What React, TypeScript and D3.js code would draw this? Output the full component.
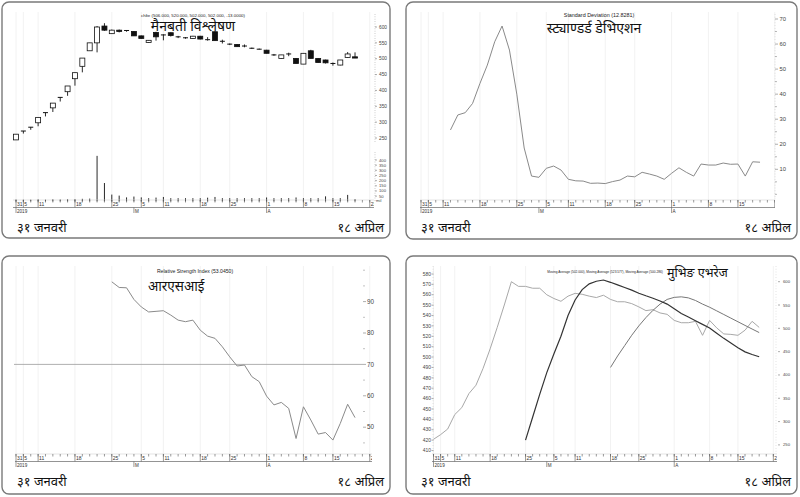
import React from "react";
import * as d3 from "d3";

// ---------- data ----------
const candleOpen = [244, 272, 284, 298, 330, 345, 378, 396, 437, 476, 525, 550, 603, 579, 590, 589, 586, 572, 551, 583, 575, 582, 569, 566, 564, 571, 560, 585, 555, 546, 545, 540, 533, 530, 527, 512, 501, 515, 501, 483, 525, 501, 496, 485, 480, 504, 506];
const candleHigh = [262, 272, 284, 315, 330, 360, 378, 414, 456, 502, 550, 603, 612, 592, 592, 590, 587, 573, 559, 585, 577, 583, 572, 568, 572, 572, 568, 587, 560, 548, 546, 545, 535, 532, 528, 515, 512, 519, 502, 517, 528, 502, 497, 488, 496, 521, 520];
const candleLow = [244, 264, 276, 287, 318, 332, 365, 383, 415, 457, 525, 520, 588, 578, 583, 585, 572, 563, 550, 557, 558, 570, 565, 563, 563, 561, 557, 557, 548, 543, 538, 536, 531, 529, 517, 509, 500, 508, 485, 483, 501, 488, 485, 478, 479, 503, 502];
const candleClose = [262, 272, 284, 315, 330, 360, 378, 414, 456, 502, 550, 600, 590, 590, 586, 586, 572, 564, 558, 569, 575, 573, 569, 566, 571, 562, 557, 557, 553, 546, 538, 540, 533, 530, 517, 512, 512, 515, 485, 517, 501, 488, 487, 485, 496, 515, 502];
const volume = [18, 16, 16, 20, 16, 20, 18, 20, 22, 24, 26, 440, 177, 65, 55, 38, 46, 38, 30, 36, 42, 30, 30, 30, 30, 30, 35, 42, 30, 30, 30, 30, 30, 30, 37, 30, 30, 30, 37, 30, 30, 30, 48, 30, 30, 62, 22];

const sdStart = 4;
const sdValues = [25.7, 31.7, 32.6, 36.3, 44.3, 51.6, 60.9, 67.2, 57.6, 40, 18.5, 7.3, 6.8, 10.4, 11.3, 9.7, 6.0, 5.4, 5.3, 4.4, 4.5, 4.3, 5.1, 5.7, 7.3, 7.0, 8.8, 8.1, 7.3, 6.0, 8.4, 10.6, 8.8, 7.3, 12.1, 11.7, 11.7, 12.5, 12.0, 12.1, 7.3, 13.0, 12.83];

const rsiStart = 13;
const rsiValues = [96.3, 94.5, 94.4, 90.7, 88.3, 86.7, 86.9, 87.1, 85.7, 84.1, 83.6, 84.1, 80.9, 79.0, 78.3, 75.6, 72.4, 69.5, 69.8, 66.1, 64.5, 59.9, 57.1, 57.9, 56.0, 46.4, 56.5, 52.3, 47.8, 48.3, 45.9, 51.2, 57.3, 53.05];

const maLongStart = 13;
const maLongValues = [420, 442, 464, 485, 503, 520, 540, 555, 565, 570.5, 573, 574.2, 572, 569.5, 567, 564.5, 561.5, 559, 556.7, 554, 551, 546.5, 542, 538.5, 535, 531.5, 528, 523, 518, 513.5, 509, 505, 502.5, 500.3];
const maMidStart = 25;
const maMidValues = [490, 501, 511, 521, 530, 538, 545, 551, 555.5, 557.5, 558, 557, 554.5, 551, 548, 544.5, 541, 537.5, 534, 530.5, 527, 523.6];

const tickIdx = [0, 1, 3, 8, 13, 17, 20, 25, 29, 34, 39, 43, 48];
const tickLabels = ["31", "5", "11", "18", "25", "5", "11", "18", "25", "1", "8", "15", "22"];
const monthIdx = [0, 16, 34];
const monthLabels = ["2019", "M", "A"];

const priceTicks = [250, 300, 350, 400, 450, 500, 550, 600];
const volTicks = [50, 100, 150, 200, 250, 300, 350, 400];
const sdTicks = [10, 20, 30, 40, 50, 60, 70];
const sdMinor = [0, 5, 15, 25, 35, 45, 55, 65];
const rsiTicks = [50, 60, 70, 80, 90];
const rsiMinor = [45, 55, 65, 75, 85, 95, 100];
const maLeftTicks = [410, 420, 430, 440, 450, 460, 470, 480, 490, 500, 510, 520, 530, 540, 550, 560, 570, 580];
const maRightTicks = [250, 300, 350, 400, 450, 500, 550, 600];

const FONT = "'Liberation Sans', Arial, Helvetica, sans-serif";
const DEVA = "'Noto Sans Devanagari', 'Lohit Devanagari', 'Noto Sans', 'FreeSans', sans-serif";
const footerLeft = "३१ जनवरी";
const footerRight = "१८ अप्रिल";

// ---------- shared pieces ----------
function Frame({ w, h }: { w: number; h: number }) {
  return <rect x={0} y={0} width={w} height={h} rx={7} fill="#fff" stroke="#7a7a7a" strokeWidth={1.4} />;
}

function Grid({ x }: { x: (i: number) => number }) {
  return (
    <g>
      {tickIdx.map((t, k) => (
        <line key={k} x1={x(t)} x2={x(t)} y1={10} y2={198} stroke="#efefef" strokeWidth={0.8} />
      ))}
    </g>
  );
}

function DateAxis({ x, x0, x1, id }: { x: (i: number) => number; x0: number; x1: number; id: string }) {
  const minor = d3.range(0, 49);
  return (
    <g fontFamily={FONT} fill="#333">
      <clipPath id={id}>
        <rect x={x0 - 2} y={190} width={x1 - x0 + 2} height={30} />
      </clipPath>
      <line x1={x0} x2={x1} y1={198} y2={198} stroke="#d5d5d5" strokeWidth={0.6} />
      <g clipPath={`url(#${id})`}>
        {minor.map((i) => (
          <line key={i} x1={x(i)} x2={x(i)} y1={198} y2={200.5} stroke="#555" strokeWidth={0.6} />
        ))}
        {tickIdx.map((t, k) => (
          <g key={k}>
            <line x1={x(t)} x2={x(t)} y1={198} y2={205.5} stroke="#555" strokeWidth={0.6} />
            <text x={x(t) + 1} y={204} fontSize={5}>
              {tickLabels[k]}
            </text>
          </g>
        ))}
      </g>
      <line x1={x0} x2={x1} y1={205.5} y2={205.5} stroke="#666" strokeWidth={0.7} />
      {monthIdx.map((t, k) => (
        <g key={k}>
          <line x1={x(t)} x2={x(t)} y1={205.5} y2={211} stroke="#555" strokeWidth={0.6} />
          <text x={x(t) + 1} y={210.5} fontSize={4.6}>
            {monthLabels[k]}
          </text>
        </g>
      ))}
    </g>
  );
}

function Footer({ w }: { w: number }) {
  return (
    <g fontFamily={DEVA} fontSize={13} fill="#111">
      <text x={15} y={230}>{footerLeft}</text>
      <text x={w - 6} y={230} textAnchor="end">{footerRight}</text>
    </g>
  );
}

// ---------- panels ----------
function CandlePanel() {
  const w = 388, h = 236;
  const x = d3.scaleLinear().domain([0, 48]).range([14, 14 + 7.37 * 48]);
  const y = d3.scaleLinear().domain([250, 600]).range([136, 25]);
  const yv = d3.scaleLinear().domain([0, 400]).range([199.3, 158]);
  const idx = d3.range(candleClose.length);
  const bw = 5;
  return (
    <g transform="translate(2,2)">
      <Frame w={w} h={h} />
      <Grid x={x} />
      {idx.map((i) => (
        <line key={"v" + i} x1={x(i)} x2={x(i)} y1={yv(0)} y2={yv(volume[i])} stroke="#111" strokeWidth={0.9} />
      ))}
      {idx.map((i) => {
        const o = y(candleOpen[i]), c = y(candleClose[i]);
        const top = Math.min(o, c), bh = Math.abs(o - c);
        const up = candleClose[i] >= candleOpen[i];
        return (
          <g key={"c" + i}>
            <line x1={x(i)} x2={x(i)} y1={y(candleHigh[i])} y2={y(candleLow[i])} stroke="#111" strokeWidth={0.9} />
            {bh < 1 ? (
              <line x1={x(i) - bw / 2} x2={x(i) + bw / 2} y1={top} y2={top} stroke="#111" strokeWidth={1} />
            ) : (
              <rect x={x(i) - bw / 2} y={top} width={bw} height={bh} fill={up ? "#fff" : "#111"} stroke="#111" strokeWidth={0.8} />
            )}
          </g>
        );
      })}
      <g fontFamily={FONT} fill="#444">
        <line x1={373} x2={373} y1={12} y2={140} stroke="#999" strokeWidth={0.6} strokeDasharray="0.8,1.6" />
        {priceTicks.map((t) => (
          <g key={t}>
            <line x1={373} x2={375} y1={y(t)} y2={y(t)} stroke="#777" strokeWidth={0.6} />
            <text x={377} y={y(t) + 1.7} fontSize={4.8}>{t}</text>
          </g>
        ))}
        <line x1={373} x2={373} y1={150} y2={199} stroke="#999" strokeWidth={0.6} strokeDasharray="0.8,1.6" />
        {volTicks.map((t) => (
          <g key={t}>
            <line x1={373} x2={375} y1={yv(t)} y2={yv(t)} stroke="#777" strokeWidth={0.6} />
            <text x={377} y={yv(t) + 1.5} fontSize={4.2}>{t}</text>
          </g>
        ))}
        <text x={374} y={200} fontSize={4.2}>mil</text>
      </g>
      <DateAxis x={x} x0={11} x1={372} id="clipTL" />
      <text x={191} y={14.5} textAnchor="middle" fontFamily={FONT} fontSize={4.4} fill="#222">
        chlte (506.000, 520.000, 502.000, 502.000, -13.0000)
      </text>
      <text x={191} y={29} textAnchor="middle" fontFamily={DEVA} fontSize={14} fill="#111">मैनबती विश्लेषण</text>
      <Footer w={w} />
    </g>
  );
}

function SdPanel() {
  const w = 391, h = 237;
  const x = d3.scaleLinear().domain([0, 48]).range([15, 15 + 7.37 * 48]);
  const y = d3.scaleLinear().domain([10, 70]).range([167.3, 17]);
  const line = d3.line<number>().x((_, k) => x(k + sdStart)).y((d) => y(d));
  return (
    <g transform="translate(406,2)">
      <Frame w={w} h={h} />
      <Grid x={x} />
      <path d={line(sdValues) || ""} fill="none" stroke="#8a8a8a" strokeWidth={1} />
      <g fontFamily={FONT} fill="#444">
        <line x1={369} x2={369} y1={12} y2={197} stroke="#bbb" strokeWidth={0.5} strokeDasharray="0.8,2" />
        {sdMinor.map((t) => (
          <line key={t} x1={369} x2={371} y1={y(t)} y2={y(t)} stroke="#888" strokeWidth={0.6} />
        ))}
        {sdTicks.map((t) => (
          <g key={t}>
            <line x1={369} x2={372} y1={y(t)} y2={y(t)} stroke="#777" strokeWidth={0.6} />
            <text x={373.5} y={y(t) + 2} fontSize={5.8}>{t}</text>
          </g>
        ))}
      </g>
      <DateAxis x={x} x0={14} x1={369} id="clipTR" />
      <text x={193} y={15} textAnchor="middle" fontFamily={FONT} fontSize={5.4} fill="#222">
        Standard Deviation (12.8281)
      </text>
      <text x={188} y={31} textAnchor="middle" fontFamily={DEVA} fontSize={14} fill="#111">स्ट्याण्डर्ड डेभिएशन</text>
      <Footer w={w} />
    </g>
  );
}

function RsiPanel() {
  const w = 388, h = 238;
  const x = d3.scaleLinear().domain([0, 48]).range([14, 14 + 7.37 * 48]);
  const y = d3.scaleLinear().domain([50, 90]).range([171.2, 45.6]);
  const line = d3.line<number>().x((_, k) => x(k + rsiStart)).y((d) => y(d));
  return (
    <g transform="translate(2,256)">
      <Frame w={w} h={h} />
      <Grid x={x} />
      <line x1={12} x2={361} y1={y(70)} y2={y(70)} stroke="#9a9a9a" strokeWidth={0.8} />
      <path d={line(rsiValues) || ""} fill="none" stroke="#8a8a8a" strokeWidth={1} />
      <g fontFamily={FONT} fill="#444">
        {rsiMinor.map((t) => (
          <line key={t} x1={361} x2={363} y1={y(t)} y2={y(t)} stroke="#999" strokeWidth={0.6} />
        ))}
        {rsiTicks.map((t) => (
          <g key={t}>
            <line x1={361} x2={364} y1={y(t)} y2={y(t)} stroke="#777" strokeWidth={0.6} />
            <text x={365} y={y(t) + 2.2} fontSize={6.3}>{t}</text>
          </g>
        ))}
      </g>
      <DateAxis x={x} x0={13} x1={370} id="clipBL" />
      <text x={193} y={16.5} textAnchor="middle" fontFamily={FONT} fontSize={5.1} fill="#222">
        Relative Strength Index (53.0450)
      </text>
      <text x={146} y={35} fontFamily={DEVA} fontSize={13.5} fill="#111">आरएसआई</text>
      <Footer w={w} />
    </g>
  );
}

function MaPanel() {
  const w = 391, h = 238;
  const x = d3.scaleLinear().domain([0, 48]).range([27.5, 27.5 + 7.08 * 48]);
  const yL = d3.scaleLinear().domain([410, 580]).range([194.5, 18]);
  const yR = d3.scaleLinear().domain([250, 600]).range([188.9, 25.7]);
  const l1 = d3.line<number>().x((_, k) => x(k)).y((d) => yR(d));
  const l2 = d3.line<number>().x((_, k) => x(k + maLongStart)).y((d) => yL(d));
  const l3 = d3.line<number>().x((_, k) => x(k + maMidStart)).y((d) => yL(d));
  return (
    <g transform="translate(406,256)">
      <Frame w={w} h={h} />
      <Grid x={x} />
      <path d={l1(candleClose) || ""} fill="none" stroke="#a8a8a8" strokeWidth={1} />
      <path d={l3(maMidValues) || ""} fill="none" stroke="#777" strokeWidth={1} />
      <path d={l2(maLongValues) || ""} fill="none" stroke="#333" strokeWidth={1.2} />
      <g fontFamily={FONT} fill="#444">
        <line x1={27} x2={27} y1={10} y2={198} stroke="#bbb" strokeWidth={0.5} strokeDasharray="0.8,2" />
        {maLeftTicks.map((t) => (
          <g key={t}>
            <line x1={25.5} x2={27.5} y1={yL(t)} y2={yL(t)} stroke="#777" strokeWidth={0.6} />
            <text x={25} y={yL(t) + 1.7} fontSize={4.9} textAnchor="end">{t}</text>
          </g>
        ))}
        <line x1={370} x2={370} y1={10} y2={198} stroke="#bbb" strokeWidth={0.5} strokeDasharray="0.8,2" />
        {maRightTicks.map((t) => (
          <g key={t}>
            <line x1={372} x2={374} y1={yR(t)} y2={yR(t)} stroke="#777" strokeWidth={0.6} />
            <text x={377} y={yR(t) + 1.5} fontSize={4.2}>{t}</text>
          </g>
        ))}
      </g>
      <DateAxis x={x} x0={26} x1={371} id="clipBR" />
      <text x={199} y={16.5} textAnchor="middle" fontFamily={FONT} fontSize={3.2} fill="#222">
        Moving Average (502.000), Moving Average (523.577), Moving Average (500.286)
      </text>
      <text x={261} y={20.5} fontFamily={DEVA} fontSize={12.5} fill="#111">मुभिङ एभरेज</text>
      <Footer w={w} />
    </g>
  );
}

export default function App() {
  return (
    <svg width={800} height={497} viewBox="0 0 800 497" style={{ position: "absolute", left: 0, top: 0, background: "#fff" }}>
      <rect x={0} y={0} width={800} height={497} fill="#fff" />
      <CandlePanel />
      <SdPanel />
      <RsiPanel />
      <MaPanel />
    </svg>
  );
}
